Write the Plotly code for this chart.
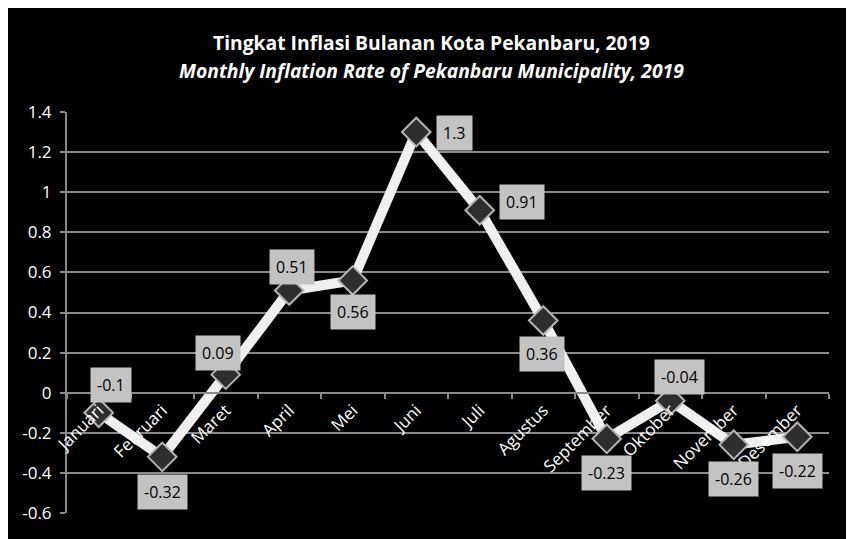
import plotly.graph_objects as go

months = ["Januari", "Februari", "Maret", "April", "Mei", "Juni", "Juli",
          "Agustus", "September", "Oktober", "November", "Desember"]
inflation = [-0.1, -0.32, 0.09, 0.51, 0.56, 1.3, 0.91, 0.36, -0.23, -0.04, -0.26, -0.22]
label_text = ["-0.1", "-0.32", "0.09", "0.51", "0.56", "1.3", "0.91", "0.36",
              "-0.23", "-0.04", "-0.26", "-0.22"]
y_tickvals = [-0.6, -0.4, -0.2, 0, 0.2, 0.4, 0.6, 0.8, 1, 1.2, 1.4]
y_ticktext = ["-0.6", "-0.4", "-0.2", "0", "0.2", "0.4", "0.6", "0.8", "1", "1.2", "1.4"]
title_line1 = "Tingkat Inflasi Bulanan Kota Pekanbaru, 2019"
title_line2 = "Monthly Inflation Rate of Pekanbaru Municipality, 2019"

# label offsets in pixels (style)
label_shift = [(12, 28), (0, -35), (-8, 22), (3, 23), (0, -32), (38, -1), (42, 8),
               (-1, -33), (0, -34), (9, 24), (0, -34), (0, -34)]

GRID = "#8a8a8a"

fig = go.Figure()
fig.add_trace(go.Scatter(
    x=months, y=inflation, mode="lines+markers",
    line=dict(color="#f0f0f0", width=10),
    marker=dict(symbol="diamond", size=22, color="#2e2e2e",
                line=dict(color="#b5b5b5", width=2)),
    hoverinfo="x+y", showlegend=False,
))

for m, v, t, (dx, dy) in zip(months, inflation, label_text, label_shift):
    fig.add_annotation(x=m, y=v, text=t, showarrow=False, xshift=dx, yshift=dy,
                       bgcolor="#c3c3c3", borderpad=6,
                       font=dict(family="Open Sans", size=16, color="#000000"))

fig.add_annotation(xref="paper", yref="paper", x=0.478, y=1 + 70 / 401, text="<b>" + title_line1 + "</b>",
                   showarrow=False, xanchor="center", yanchor="middle",
                   font=dict(family="Open Sans", size=19.3, color="#ffffff"))
fig.add_annotation(xref="paper", yref="paper", x=0.478, y=1 + 42 / 401, text="<b><i>" + title_line2 + "</i></b>",
                   showarrow=False, xanchor="center", yanchor="middle",
                   font=dict(family="Open Sans", size=19.3, color="#ffffff"))

fig.update_layout(
    width=846, height=531,
    margin=dict(l=59, r=25, t=104, b=26),
    paper_bgcolor="#000000", plot_bgcolor="#000000",
    font=dict(family="Open Sans", color="#ffffff"),
    xaxis=dict(
        type="category", range=[-0.5, 11.5], anchor="free", position=0.3,
        showline=True, linecolor=GRID, linewidth=2,
        ticks="outside", tickson="boundaries", ticklen=5, tickcolor=GRID, tickwidth=2,
        tickangle=-45, tickfont=dict(family="Open Sans", size=17, color="#ffffff"),
        showgrid=False, zeroline=False,
    ),
    yaxis=dict(
        range=[-0.6, 1.4], tickvals=y_tickvals, ticktext=y_ticktext,
        showline=True, linecolor=GRID, linewidth=2,
        ticks="outside", ticklen=5, tickcolor=GRID, tickwidth=2,
        showgrid=True, gridcolor=GRID, gridwidth=2, zeroline=False,
        tickfont=dict(family="Open Sans", size=17, color="#ffffff"),
        ticklabelstandoff=5,
    ),
)

fig.write_html("out.html")
